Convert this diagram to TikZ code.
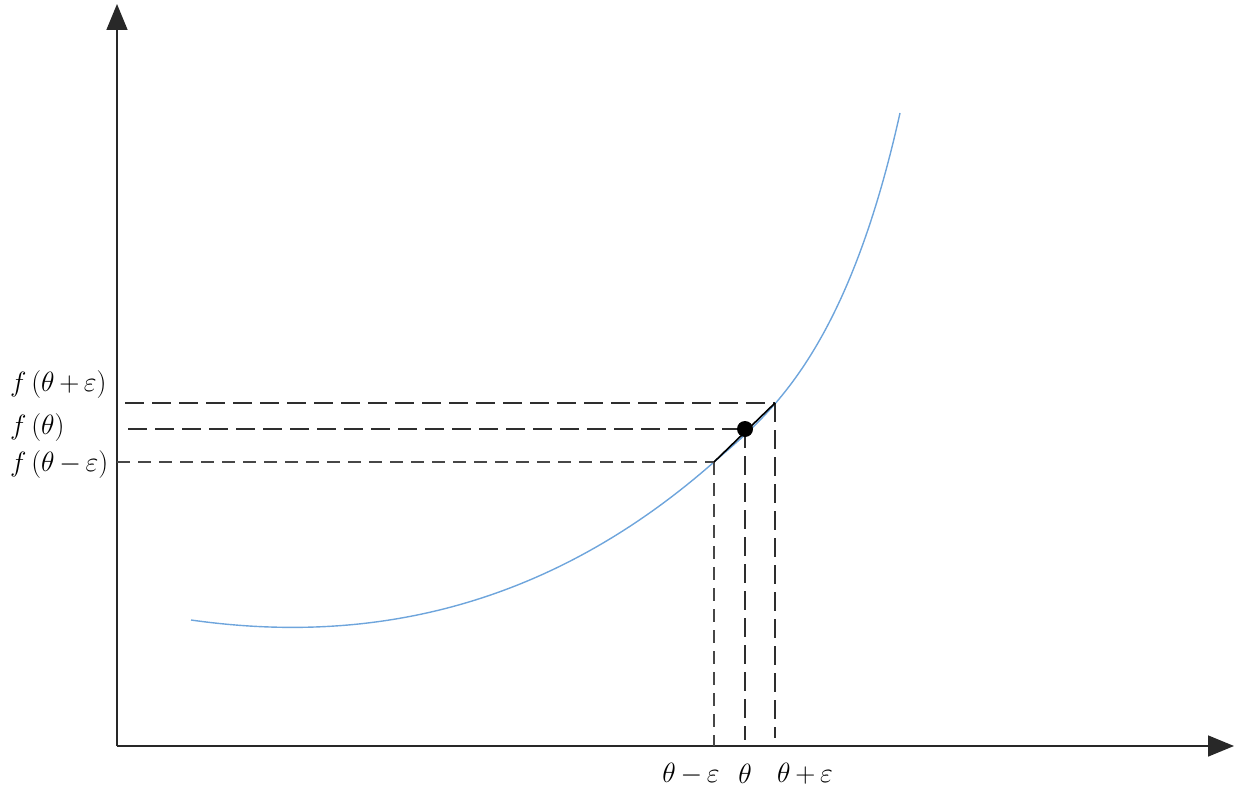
\documentclass[tikz,border=0pt]{standalone}
\usetikzlibrary{arrows.meta}
\definecolor{curveblue}{RGB}{110,165,220}
\definecolor{axisgray}{RGB}{40,40,40}
\tikzset{
  axisline/.style={line width=1.6pt, draw=axisgray, -{Triangle[length=26pt,width=21pt]}},
  thickdash/.style={line width=2.8pt, draw=black!82, dash pattern=on 19pt off 8pt},
  thindash/.style={line width=1.8pt, draw=black!72, dash pattern=on 13pt off 8pt},
  lbl/.style={inner sep=0pt, font=\fontsize{24.88}{30}\selectfont, scale=1.12, transform shape},
}
\begin{document}
\begin{tikzpicture}[x=1pt,y=-1pt]
\useasboundingbox (0,0) rectangle (1250,794);
% key coordinates
\coordinate (O) at (117,746);
\coordinate (ytip) at (117,4);
\coordinate (xtip) at (1234,746);
\coordinate (C0) at (191,620);
\coordinate (C1) at (900,113);
\coordinate (A) at (714,462);
\coordinate (P) at (745,429);
\coordinate (B) at (775,403);
\coordinate (Ax) at (714,746);
\coordinate (Px) at (745,740);
\coordinate (Bx) at (775,738);
\coordinate (Ay) at (117,462);
\coordinate (Py) at (128,429);
\coordinate (By) at (125,403);
% axes
\draw[axisline] (O) -- (ytip);
\draw[axisline] (O) -- (xtip);
% curve
\draw[curveblue, line width=1.4pt] (C0) .. controls (353,643) and (537,618) .. (A)
   .. controls (764,418) and (845,360.5) .. (C1);
% dashed guides
\draw[thickdash] (By) -- (B);
\draw[thickdash] (Py) -- (P);
\draw[thindash] (Ay) -- (A);
\draw[thindash] (A) -- (Ax);
\draw[thickdash] (P) -- (Px);
\draw[thickdash] (B) -- (Bx);
% secant
\draw[black, line width=1.6pt] (A) -- (B);
\fill[black] (P) circle (8pt);
% labels
\node[lbl, anchor=west] (lfp) at (10,385) {$f\,(\theta\,{+}\,\varepsilon)$};
\node[lbl, anchor=west] (lf) at (10,428) {$f\,(\theta)$};
\node[lbl, anchor=west] (lfm) at (10,465) {$f\,(\theta\,{-}\,\varepsilon)$};
\node[lbl] (xm) at (691,774) {$\theta\,{-}\,\varepsilon$};
\node[lbl] (x0) at (745,774) {$\theta$};
\node[lbl] (xp) at (805,774) {$\theta\,{+}\,\varepsilon$};
\end{tikzpicture}
\end{document}
